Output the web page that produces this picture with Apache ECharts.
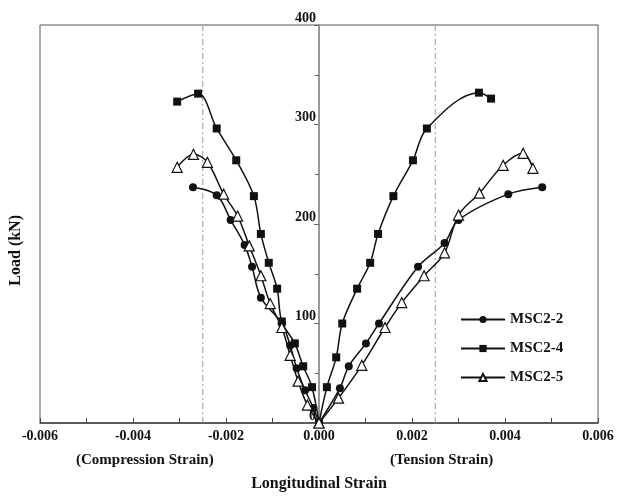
<!DOCTYPE html>
<html lang="en">
<head>
    <meta charset="UTF-8">
    <title>Load - Longitudinal Strain</title>
    <script src="https://cdn.jsdelivr.net/npm/echarts@6/dist/echarts.min.js"></script>
</head>
<body style="margin:0">
<div style="width: 622px; height: 497px" id="strain-chart"></div>

<script type="text/javascript">
    // [strain, load kN]; compression side then tension side
    var msc22Comp = [[-0.00271, 237], [-0.0022, 229], [-0.0019, 204], [-0.0016, 179], [-0.00144, 157],
        [-0.00125, 126], [-0.0008, 100], [-0.00062, 78], [-0.00048, 55], [-0.0003, 33], [-0.00012, 15], [0, 0]];
    var msc22Tens = [[0, 0], [0.00045, 35], [0.00064, 57], [0.00101, 80], [0.00129, 100], [0.00213, 157],
        [0.0027, 181], [0.003, 204], [0.00407, 230], [0.0048, 237]];

    var msc24Comp = [[-0.00305, 323], [-0.0026, 331], [-0.0022, 296], [-0.00178, 264], [-0.0014, 228],
        [-0.00125, 190], [-0.00108, 161], [-0.0009, 135], [-0.0008, 102], [-0.00052, 80], [-0.00034, 57],
        [-0.00015, 36], [0, 0]];
    var msc24Tens = [[0, 0], [0.00017, 36], [0.00037, 66], [0.0005, 100], [0.00082, 135], [0.0011, 161],
        [0.00127, 190], [0.0016, 228], [0.00202, 264], [0.00232, 296], [0.00344, 332], [0.0037, 326]];

    var msc25Comp = [[-0.00305, 257], [-0.0027, 270], [-0.0024, 262], [-0.00205, 230], [-0.00175, 208],
        [-0.0015, 178], [-0.00125, 148], [-0.00105, 120], [-0.0008, 96], [-0.00062, 68], [-0.00045, 42],
        [-0.00025, 18], [0, 0]];
    var msc25Tens = [[0, 0], [0.00042, 25], [0.00092, 58], [0.00142, 96], [0.00178, 121], [0.00226, 148],
        [0.0027, 171], [0.003, 209], [0.00345, 231], [0.00396, 259], [0.00439, 271], [0.0046, 256]];

    var yieldStrain = [-0.0025, 0.0025];
    var seriesNames = ['MSC2-2', 'MSC2-4', 'MSC2-5'];

    var font = 'Liberation Serif';
    var ink = '#111';

    var myChart = echarts.init(document.getElementById('strain-chart'));

    function curve(name, data, symbol, size, hollow) {
        return {
            name: name,
            type: 'line',
            data: data,
            smooth: 0.35,
            symbol: symbol,
            symbolSize: size,
            showAllSymbol: true,
            lineStyle: {color: ink, width: 1.5},
            itemStyle: hollow ? {color: '#fff', borderColor: ink, borderWidth: 1.2} : {color: ink},
            emphasis: {disabled: true},
            z: 3
        };
    }

    var series = [
        curve(seriesNames[0], msc22Comp, 'circle', 8),
        curve(seriesNames[0], msc22Tens, 'circle', 8),
        curve(seriesNames[1], msc24Comp, 'rect', 8),
        curve(seriesNames[1], msc24Tens, 'rect', 8),
        curve(seriesNames[2], msc25Comp, 'triangle', 10, true),
        curve(seriesNames[2], msc25Tens, 'triangle', 10, true)
    ];
    // dash-dot guides at the yield strain, full height
    yieldStrain.forEach(function (v) {
        series.push({
            name: 'yield',
            type: 'line',
            data: [[v, 0], [v, 400]],
            symbol: 'none',
            silent: true,
            lineStyle: {color: '#999', width: 1, type: [6, 3, 2, 3]},
            z: 1
        });
    });

    var option = {
        animation: false,
        backgroundColor: '#fff',
        grid: {
            left: 40, right: 24, top: 25, bottom: 74,
            show: true, borderColor: '#555', borderWidth: 1
        },
        legend: {
            orient: 'vertical',
            left: 455,
            top: 307,
            itemWidth: 44,
            itemHeight: 9,
            itemGap: 14,
            data: seriesNames,
            textStyle: {fontFamily: font, fontWeight: 'bold', fontSize: 15, color: ink}
        },
        xAxis: {
            type: 'value',
            min: -0.006,
            max: 0.006,
            interval: 0.002,
            name: 'Longitudinal Strain',
            nameLocation: 'middle',
            nameGap: 53,
            nameTextStyle: {fontFamily: font, fontWeight: 'bold', fontSize: 16, color: ink},
            axisLine: {lineStyle: {color: '#444', width: 1.5}},
            axisTick: {inside: true, length: 5, lineStyle: {color: '#444'}},
            minorTick: {show: true, splitNumber: 2, length: 5, lineStyle: {color: '#444'}},
            splitLine: {show: false},
            axisLabel: {
                fontFamily: font, fontWeight: 'bold', fontSize: 14, color: ink, margin: 6,
                formatter: function (v) {
                    return v.toFixed(3);
                }
            }
        },
        yAxis: {
            type: 'value',
            min: 0,
            max: 400,
            interval: 100,
            position: 'left',
            offset: -279,
            axisLine: {onZero: false, lineStyle: {color: '#777', width: 1.5}},
            axisTick: {length: 5, lineStyle: {color: '#666'}},
            minorTick: {show: true, splitNumber: 2, length: 4, lineStyle: {color: '#666'}},
            splitLine: {show: false},
            axisLabel: {
                fontFamily: font, fontWeight: 'bold', fontSize: 14, color: ink,
                margin: 3, verticalAlign: 'bottom'
            }
        },
        graphic: [
            {
                type: 'text', left: 8, top: 215, rotation: Math.PI / 2,
                style: {
                    text: 'Load (kN)', fontFamily: font, fontWeight: 'bold', fontSize: 16,
                    fill: ink, align: 'center', verticalAlign: 'middle'
                }
            },
            {
                type: 'text', left: 76, top: 453,
                style: {text: '(Compression Strain)', fontFamily: font, fontWeight: 'bold', fontSize: 15, fill: ink}
            },
            {
                type: 'text', left: 390, top: 453,
                style: {text: '(Tension Strain)', fontFamily: font, fontWeight: 'bold', fontSize: 15, fill: ink}
            }
        ],
        series: series
    };

    myChart.setOption(option);
</script>
</body>
</html>
